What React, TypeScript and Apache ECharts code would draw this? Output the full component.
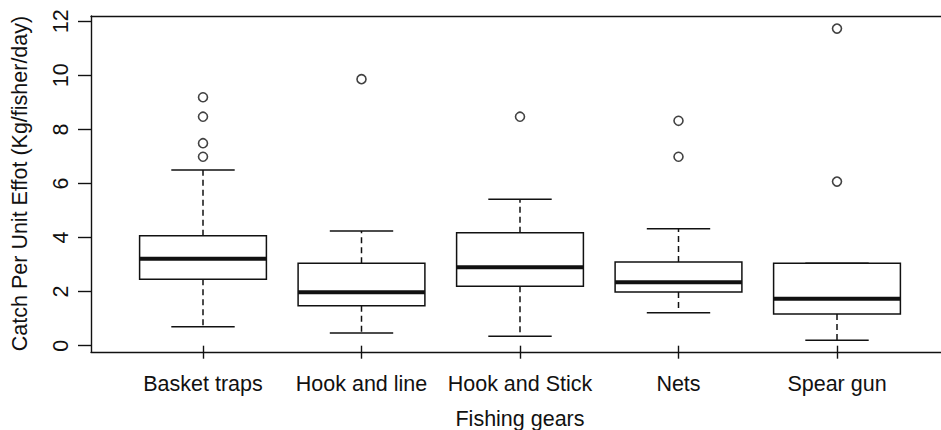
import React, { useEffect, useRef } from "react";
import * as echarts from "echarts";

const categories = ["Basket traps", "Hook and line", "Hook and Stick", "Nets", "Spear gun"];
// five-number summaries
const lowerWhisker = [0.7, 0.47, 0.35, 1.22, 0.2];
const q1 = [2.46, 1.48, 2.2, 1.99, 1.17];
const medians = [3.22, 1.98, 2.9, 2.35, 1.74];
const q3 = [4.07, 3.05, 4.18, 3.1, 3.05];
const upperWhisker = [6.5, 4.24, 5.42, 4.33, 3.05];
// outliers: [category index, value]
const outliers: [number, number][] = [
  [0, 9.19], [0, 8.47], [0, 7.49], [0, 6.99],
  [1, 9.86],
  [2, 8.47],
  [3, 8.32], [3, 6.99],
  [4, 11.73], [4, 6.07],
];
const yTicks = { min: 0, max: 12, interval: 2 };

const FONT = "'Liberation Sans', Arial, Helvetica, sans-serif";
const INK = "#111";
const FS = 21.5;

export default function App() {
  const ref = useRef<HTMLDivElement>(null);
  useEffect(() => {
    if (!ref.current) return;
    const chart = echarts.init(ref.current, null, { renderer: "svg" });
    const boxData = categories.map((_, i) => [i, lowerWhisker[i], q1[i], medians[i], q3[i], upperWhisker[i]]);
    const renderItem = (params: any, api: any) => {
      const idx = api.value(0);
      const band = api.size([1, 0])[0];
      const boxW = band * 0.8;
      const capW = boxW / 2;
      const pLow = api.coord([idx, api.value(1)]);
      const pQ1 = api.coord([idx, api.value(2)]);
      const pMed = api.coord([idx, api.value(3)]);
      const pQ3 = api.coord([idx, api.value(4)]);
      const pHigh = api.coord([idx, api.value(5)]);
      const cx = pMed[0];
      const lw = 1.5;
      const children: any[] = [];
      if (pHigh[1] < pQ3[1] - 0.5) {
        children.push({
          type: "line",
          shape: { x1: cx, y1: pQ3[1], x2: cx, y2: pHigh[1] },
          style: { stroke: INK, lineWidth: lw, lineDash: [6, 4] },
        });
      }
      children.push({
        type: "line",
        shape: { x1: cx, y1: pQ1[1], x2: cx, y2: pLow[1] },
        style: { stroke: INK, lineWidth: lw, lineDash: [6, 4] },
      });
      children.push({
        type: "line",
        shape: { x1: cx - capW / 2, y1: pHigh[1], x2: cx + capW / 2, y2: pHigh[1] },
        style: { stroke: INK, lineWidth: lw },
      });
      children.push({
        type: "line",
        shape: { x1: cx - capW / 2, y1: pLow[1], x2: cx + capW / 2, y2: pLow[1] },
        style: { stroke: INK, lineWidth: lw },
      });
      children.push({
        type: "rect",
        shape: { x: cx - boxW / 2, y: pQ3[1], width: boxW, height: pQ1[1] - pQ3[1] },
        style: { fill: "#fff", stroke: INK, lineWidth: lw },
      });
      children.push({
        type: "line",
        shape: { x1: cx - boxW / 2, y1: pMed[1], x2: cx + boxW / 2, y2: pMed[1] },
        style: { stroke: INK, lineWidth: 4 },
      });
      return { type: "group", children };
    };
    const frameAxisLine = { show: true, lineStyle: { color: INK, width: 1.4 } };
    chart.setOption({
      animation: false,
      backgroundColor: "#fff",
      textStyle: { fontFamily: FONT },
      grid: [
        { left: 91, top: 16, right: 0, height: 336, outerBoundsMode: "none", containLabel: false },
        { left: 123.75, top: 21.3, width: 792.5, height: 324.4, outerBoundsMode: "none", containLabel: false },
      ],
      xAxis: [
        { type: "value", gridIndex: 0, min: 0, max: 1, position: "bottom", axisLine: frameAxisLine, axisTick: { show: false }, axisLabel: { show: false }, splitLine: { show: false } },
        { type: "value", gridIndex: 0, min: 0, max: 1, position: "top", axisLine: frameAxisLine, axisTick: { show: false }, axisLabel: { show: false }, splitLine: { show: false } },
        {
          type: "category",
          gridIndex: 1,
          data: categories,
          offset: 6.3,
          name: "Fishing gears",
          nameLocation: "middle",
          nameGap: 56,
          nameTextStyle: { fontSize: FS, color: INK, fontFamily: FONT },
          axisLine: { show: false },
          axisTick: { show: true, alignWithLabel: true, length: 13, lineStyle: { color: INK, width: 1.4 } },
          axisLabel: { fontSize: FS, color: INK, fontFamily: FONT, margin: 21, interval: 0 },
          splitLine: { show: false },
        },
      ],
      yAxis: [
        { type: "value", gridIndex: 0, min: 0, max: 1, position: "left", axisLine: frameAxisLine, axisTick: { show: false }, axisLabel: { show: false }, splitLine: { show: false } },
        {
          type: "value",
          gridIndex: 1,
          min: yTicks.min,
          max: yTicks.max,
          interval: yTicks.interval,
          offset: 32.75,
          name: "Catch Per Unit Effot (Kg/fisher/day)",
          nameLocation: "middle",
          nameGap: 60,
          nameTextStyle: { fontSize: FS, color: INK, fontFamily: FONT },
          axisLine: { show: false },
          axisTick: { show: true, length: 13, lineStyle: { color: INK, width: 1.4 } },
          axisLabel: { fontSize: FS, color: INK, fontFamily: FONT, rotate: 90, margin: 19 },
          splitLine: { show: false },
        },
      ],
      series: [
        {
          type: "custom",
          xAxisIndex: 2,
          yAxisIndex: 1,
          data: boxData,
          renderItem,
          encode: { x: 0, y: [1, 2, 3, 4, 5] },
          silent: true,
        },
        {
          type: "scatter",
          xAxisIndex: 2,
          yAxisIndex: 1,
          data: outliers,
          symbol: "circle",
          symbolSize: 9,
          itemStyle: { color: "#fff", borderColor: INK, borderWidth: 1.6 },
          silent: true,
        },
      ],
    });
    return () => chart.dispose();
  }, []);
  return <div ref={ref} style={{ width: 941, height: 430, position: "absolute", left: 0, top: 0 }} />;
}
